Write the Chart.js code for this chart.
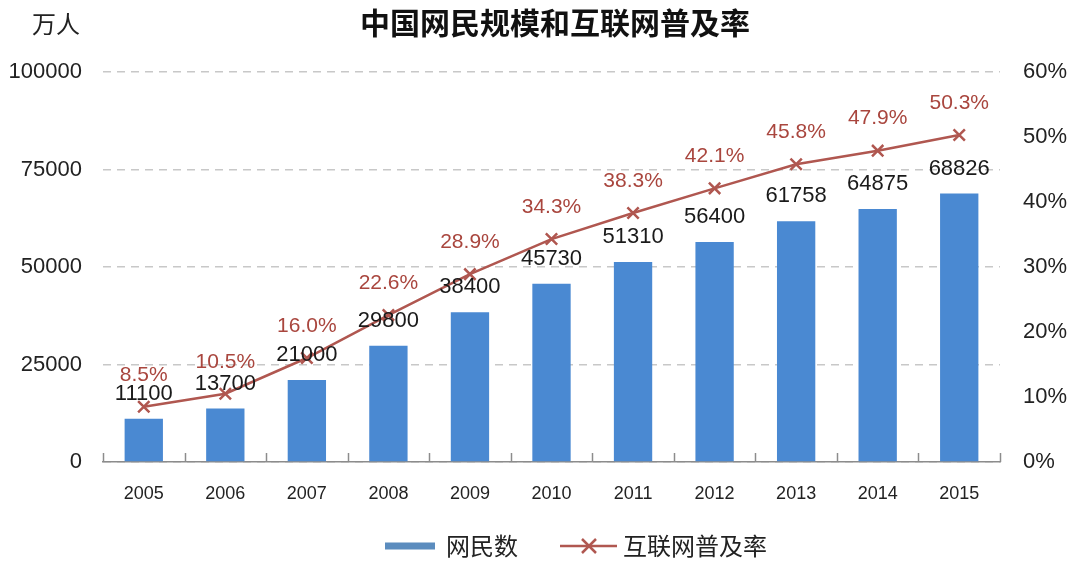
<!DOCTYPE html>
<html><head><meta charset="utf-8">
<script src="https://cdn.jsdelivr.net/npm/chart.js@4"></script>
<style>html,body{margin:0;padding:0;background:#fff}#w{width:1070px;height:563px}</style>
</head><body><div id="w"><canvas id="c" width="1070" height="563"></canvas></div>
<script>
const years = ['2005','2006','2007','2008','2009','2010','2011','2012','2013','2014','2015'];
const netizens = [11100,13700,21000,29800,38400,45730,51310,56400,61758,64875,68826];
const penetration = [8.5,10.5,16.0,22.6,28.9,34.3,38.3,42.1,45.8,47.9,50.3];
const leftTicks = [0,25000,50000,75000,100000];
const rightTicks = [0,10,20,30,40,50,60];
const title = '中国网民规模和互联网普及率';
const unitLabel = '万人';
const seriesNames = ['网民数','互联网普及率'];

const FONT = '"Liberation Sans", "Noto Sans CJK SC", sans-serif';
const CJK = '"Noto Sans CJK SC", sans-serif';
const BAR = '#4a89d2';
const LINE = '#b05750';
const LABELRED = '#a9463e';

const deco = {
  id:'deco',
  afterDatasetsDraw(chart){
    const {ctx, chartArea:a, scales:{x}} = chart;
    ctx.save();
    ctx.strokeStyle='#8c8c8c'; ctx.lineWidth=1.5;
    const step = (x.getPixelForValue(1)-x.getPixelForValue(0));
    for(let i=0;i<=years.length;i++){
      const px = Math.round(x.getPixelForValue(0)-step/2+i*step)+0.5;
      ctx.beginPath(); ctx.moveTo(px,a.bottom); ctx.lineTo(px,a.bottom-9); ctx.stroke();
    }
    ctx.textAlign='center'; ctx.textBaseline='middle';
    ctx.font='22px '+FONT; ctx.fillStyle='#1a1a1a';
    chart.getDatasetMeta(0).data.forEach((b,i)=>{
      ctx.fillText(String(netizens[i]), b.x, b.y-25);
    });
    ctx.font='21px '+FONT; ctx.fillStyle=LABELRED;
    chart.getDatasetMeta(1).data.forEach((p,i)=>{
      ctx.fillText(penetration[i].toFixed(1)+'%', p.x, p.y-32);
    });
    ctx.fillStyle='#111'; ctx.font='bold 30px '+CJK;
    ctx.fillText(title, 555, 23);
    ctx.font='24px '+CJK; ctx.fillStyle='#222';
    ctx.fillText(unitLabel, 56, 24);
    const ly=546;
    ctx.strokeStyle='#5b8cbe'; ctx.lineWidth=7;
    ctx.beginPath(); ctx.moveTo(385,ly); ctx.lineTo(435,ly); ctx.stroke();
    ctx.fillStyle='#222'; ctx.font='24px '+CJK; ctx.textAlign='left';
    ctx.fillText(seriesNames[0], 446, ly);
    ctx.strokeStyle=LINE; ctx.lineWidth=2.5;
    ctx.beginPath(); ctx.moveTo(560,ly); ctx.lineTo(617,ly); ctx.stroke();
    ctx.beginPath(); ctx.moveTo(582,ly-7); ctx.lineTo(596,ly+7); ctx.moveTo(596,ly-7); ctx.lineTo(582,ly+7); ctx.stroke();
    ctx.fillText(seriesNames[1], 623, ly);
    ctx.restore();
  }
};

new Chart(document.getElementById('c'), {
  data:{
    labels:years,
    datasets:[
      {type:'bar', label:seriesNames[0], data:netizens, yAxisID:'y', backgroundColor:BAR, categoryPercentage:1, barPercentage:0.47, order:1},
      {type:'line', label:seriesNames[1], data:penetration, yAxisID:'y1', borderColor:LINE, borderWidth:2.5,
       pointStyle:'crossRot', pointRadius:8, pointBorderWidth:2.5, pointBorderColor:LINE, pointBackgroundColor:LINE, order:0, tension:0}
    ]
  },
  options:{
    responsive:false, animation:false, devicePixelRatio:1,
    layout:{padding:{top:72,bottom:51,left:0,right:0}},
    plugins:{legend:{display:false}, tooltip:{enabled:false}, title:{display:false}},
    scales:{
      x:{grid:{display:false}, border:{display:true,color:'#8c8c8c',width:1.5},
         ticks:{color:'#222', font:{size:18,family:FONT}, padding:13},
         afterFit(s){s.height=50;}},
      y:{position:'left', min:0, max:100000, afterBuildTicks(s){s.ticks=leftTicks.map(v=>({value:v}));},
         grid:{color:'#c8c8c8', lineWidth:1.5, drawTicks:false}, border:{display:false, dash:[8,6]},
         ticks:{color:'#222', font:{size:22,family:FONT}, padding:21, callback:v=>String(v)},
         afterFit(s){s.width=103;}},
      y1:{position:'right', min:0, max:60, afterBuildTicks(s){s.ticks=rightTicks.map(v=>({value:v}));},
         grid:{display:false, drawTicks:false}, border:{display:false},
         ticks:{color:'#222', font:{size:22,family:FONT}, padding:23, callback:v=>v+'%'},
         afterFit(s){s.width=70;}}
    }
  },
  plugins:[deco]
});
</script></body></html>
